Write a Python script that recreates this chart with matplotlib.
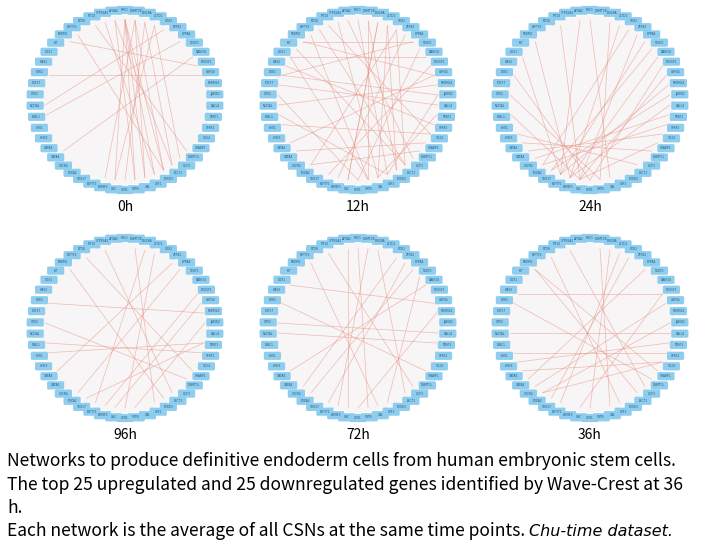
import numpy as np
import matplotlib.pyplot as plt
from matplotlib.patches import FancyBboxPatch, Circle

genes = ["PHC1", "DNMT3B", "LIN28A", "L1TD1", "SOX2", "ZFP42", "DPPA4", "TDGF1",
         "NANOG", "POU5F1", "USP44", "PRDM14", "JARID2", "SALL4", "TERF1", "SFRP2",
         "CD24", "CRABP1", "DNMT3L", "GDF3", "LECT1", "FOXD3", "UTF1", "GAL", "VRTN",
         "CER1", "GSC", "EOMES", "LEFTY1", "SOX17", "FOXA2", "CXCR4", "GATA4", "GATA6",
         "HHEX", "LHX1", "MIXL1", "NODAL", "OTX2", "FGF17", "DKK1", "HAS2", "CDX1",
         "KIT", "PRDM1", "LEFTY2", "FZD8", "MT1X", "CYP26A1", "APOA2"]

times = ["0h", "12h", "24h", "96h", "72h", "36h"]

# edges (node index pairs)
edges = {
    "0h": [(0, 22), (0, 24), (1, 23), (0, 21), (49, 20), (2, 25), (1, 27), (3, 19),
           (48, 22), (0, 26), (6, 36), (10, 40), (45, 21), (4, 37), (8, 32), (47, 18),
           (0, 23), (1, 21), (49, 24), (2, 20), (44, 9), (3, 26)],
    "12h": [(0, 22), (1, 24), (2, 26), (3, 21), (4, 20), (5, 27), (6, 40), (8, 42),
            (10, 44), (12, 22), (14, 23), (16, 35), (18, 30), (45, 24), (47, 16),
            (49, 19), (40, 12), (38, 25), (44, 6), (36, 22), (33, 10), (30, 4), (42, 24),
            (1, 21), (3, 23), (7, 25), (9, 28), (46, 20), (48, 23), (11, 37), (13, 39),
            (15, 41), (17, 32), (20, 43), (26, 2)],
    "24h": [(0, 23), (2, 24), (4, 30), (6, 28), (8, 27), (10, 26), (12, 29), (14, 31),
            (16, 32), (18, 33), (20, 34), (36, 26), (40, 25), (44, 27), (47, 26), (49, 28),
            (3, 27), (5, 26), (7, 29), (9, 25), (11, 28), (13, 27), (15, 30), (17, 26),
            (38, 24), (42, 28)],
    "96h": [(1, 22), (3, 25), (6, 30), (9, 27), (12, 24), (15, 36), (18, 38), (44, 21),
            (48, 20), (40, 11), (35, 14), (2, 28), (5, 33), (10, 26), (14, 29), (46, 17)],
    "72h": [(0, 24), (2, 20), (5, 28), (8, 33), (11, 25), (14, 37), (17, 40), (45, 23),
            (47, 19), (42, 10), (38, 13), (30, 6), (1, 27), (4, 31), (7, 22), (49, 26)],
    "36h": [(1, 23), (3, 28), (6, 32), (9, 26), (12, 30), (15, 35), (18, 40), (20, 44),
            (46, 22), (48, 19), (41, 9), (37, 13), (33, 16), (29, 4), (10, 31), (14, 34),
            (16, 30), (2, 25), (44, 17)],
}

centers = {"0h": (125, 100), "12h": (358, 100), "24h": (590, 100),
           "96h": (125, 328), "72h": (358, 328), "36h": (590, 328)}

fam = ["Noto Sans CJK JP", "DejaVu Sans"]

fig = plt.figure(figsize=(7.2, 5.4), dpi=100)
ax = fig.add_axes([0, 0, 1, 1])
ax.set_xlim(0, 720)
ax.set_ylim(540, 0)
ax.axis("off")

r = 90
n = len(genes)
ang = -np.pi / 2 + 2 * np.pi * np.arange(n) / n
for t in times:
    cx, cy = centers[t]
    ax.add_patch(Circle((cx, cy), r - 6, color="#f7f5f5", zorder=0))
    px = cx + (r - 10) * np.cos(ang)
    py = cy + (r - 10) * np.sin(ang)
    for i, j in edges[t]:
        ax.plot([px[i], px[j]], [py[i], py[j]], color="#e58a7c", lw=0.5,
                alpha=0.55, zorder=1)
    for k, g in enumerate(genes):
        x = cx + r * np.cos(ang[k])
        y = cy + r * np.sin(ang[k])
        ax.add_patch(FancyBboxPatch((x - 8, y - 3.5), 16, 7,
                                    boxstyle="round,pad=0.6,rounding_size=1.5",
                                    fc="#8fcdef", ec="none", zorder=2))
        ax.text(x, y, g, fontsize=2.2, ha="center", va="center",
                color="#2a5a80", zorder=3)
    ax.text(cx, cy + 107, t, fontsize=10, ha="center", va="center", family=fam)

cap = ["Networks to produce definitive endoderm cells from human embryonic stem cells.",
       "The top 25 upregulated and 25 downregulated genes identified by Wave-Crest at 36",
       "h."]
for k, line in enumerate(cap):
    ax.text(7, 461 + 23.5 * k, line, fontsize=12.6, va="center", family=fam)
last = ax.text(7, 531, "Each network is the average of all CSNs at the same time points. ",
               fontsize=12.6, va="center", family=fam)
fig.canvas.draw()
bb = last.get_window_extent()
ax.text(bb.x1, bb.y0 + bb.height / 2, "Chu-time dataset.", fontsize=11.5,
        va="center", style="italic", family="DejaVu Sans", transform=None)

fig.savefig("out.png", dpi=100)
